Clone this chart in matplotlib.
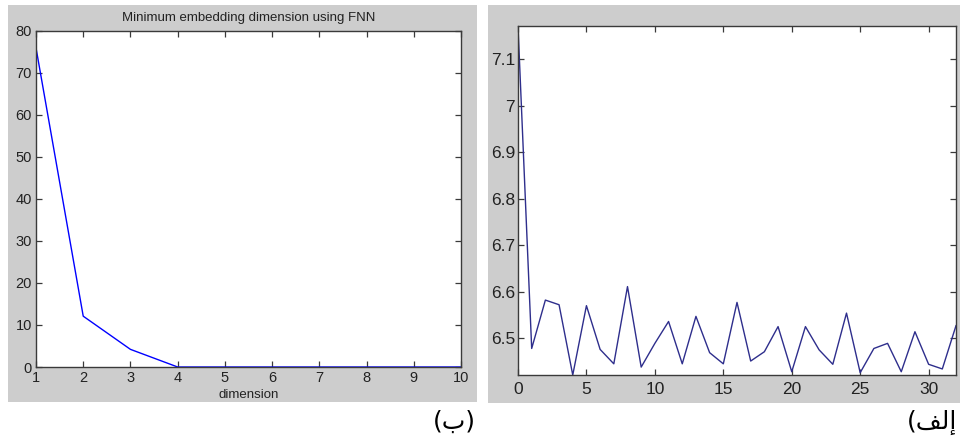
import matplotlib.pyplot as plt
from matplotlib.patches import Rectangle
from matplotlib.ticker import FuncFormatter

# === DATA ===

fnn_dim = [1, 2, 3, 4, 5, 6, 7, 8, 9, 10]
fnn_pct = [76.0, 12.1, 4.2, 0, 0, 0, 0, 0, 0, 0]

lag = list(range(33))
ami = [7.171, 6.478, 6.582, 6.572, 6.421, 6.570, 6.476, 6.445, 6.611, 6.438,
       6.489, 6.536, 6.445, 6.547, 6.469, 6.445, 6.577, 6.451, 6.471, 6.525,
       6.428, 6.525, 6.475, 6.444, 6.554, 6.426, 6.478, 6.489, 6.428, 6.514,
       6.444, 6.434, 6.527]

fnn_title = 'Minimum embedding dimension using FNN'
fnn_xlabel = 'dimension'
label_b = '(\uFE8F)'                 # (ب)
label_alef = '(\uFED2\uFEDF\uFE87'   # (الف  visual order

# === LAYOUT (pixels of a 960x444 canvas) ===

W, H = 960, 444
GRAY = '#cdcdcd'
TICK_COL = '#222222'


def px_box(x0, y0, x1, y1):
    return [x0 / W, 1 - y1 / H, (x1 - x0) / W, (y1 - y0) / H]


def matlab_style(ax, size, pad_x, pad_y):
    for s in ax.spines.values():
        s.set_color('#3a3a3a')
        s.set_linewidth(1.0)
    ax.tick_params(direction='in', top=True, right=True, length=4,
                   width=0.9, color='#3a3a3a', labelsize=size,
                   labelcolor=TICK_COL)
    ax.tick_params(axis='x', pad=pad_x)
    ax.tick_params(axis='y', pad=pad_y)
    ax.set_facecolor('white')


plt.rcParams['font.family'] = ['Liberation Sans', 'DejaVu Sans']

fig = plt.figure(figsize=(9.6, 4.44), dpi=100)

# gray figure backgrounds of the two matlab windows
for (x0, y0, x1, y1) in [(8, 5, 477, 402), (488, 5, 960, 403)]:
    fig.add_artist(Rectangle((x0 / W, 1 - y1 / H), (x1 - x0) / W, (y1 - y0) / H,
                             transform=fig.transFigure, facecolor=GRAY,
                             edgecolor='none', zorder=-5))

# --- left: FNN ---
ax1 = fig.add_axes(px_box(36, 31, 461, 367))
ax1.plot(fnn_dim, fnn_pct, color='#0000ff', linewidth=1.0)
ax1.set_xlim(1, 10)
ax1.set_ylim(0, 80)
ax1.set_xticks(fnn_dim)
ax1.set_yticks(range(0, 81, 10))
matlab_style(ax1, 10.5, 3, 3)
ax1.set_title(fnn_title, fontsize=9.5, color=TICK_COL, pad=7)
ax1.set_xlabel(fnn_xlabel, fontsize=9.5, color=TICK_COL, labelpad=3)

# --- right: lag curve ---
ax2 = fig.add_axes(px_box(518, 26, 956, 375))
ax2.plot(lag, ami, color='#2e2e8c', linewidth=1.0)
ax2.set_xlim(0, 32)
ax2.set_ylim(min(ami), max(ami))
ax2.set_xticks(range(0, 31, 5))
ax2.set_yticks([6.5, 6.6, 6.7, 6.8, 6.9, 7.0, 7.1])
ax2.yaxis.set_major_formatter(FuncFormatter(lambda v, p: f'{v:g}'))
matlab_style(ax2, 12.5, 5, 2)

# panel captions
fig.text(433 / W, 1 - 422 / H, label_b, fontsize=18, family=['DejaVu Sans'],
         ha='left', va='center', color='black')
fig.text(957 / W, 1 - 422 / H, label_alef, fontsize=18, family=['DejaVu Sans'],
         ha='right', va='center', color='black')

fig.savefig('out.png', dpi=100)
